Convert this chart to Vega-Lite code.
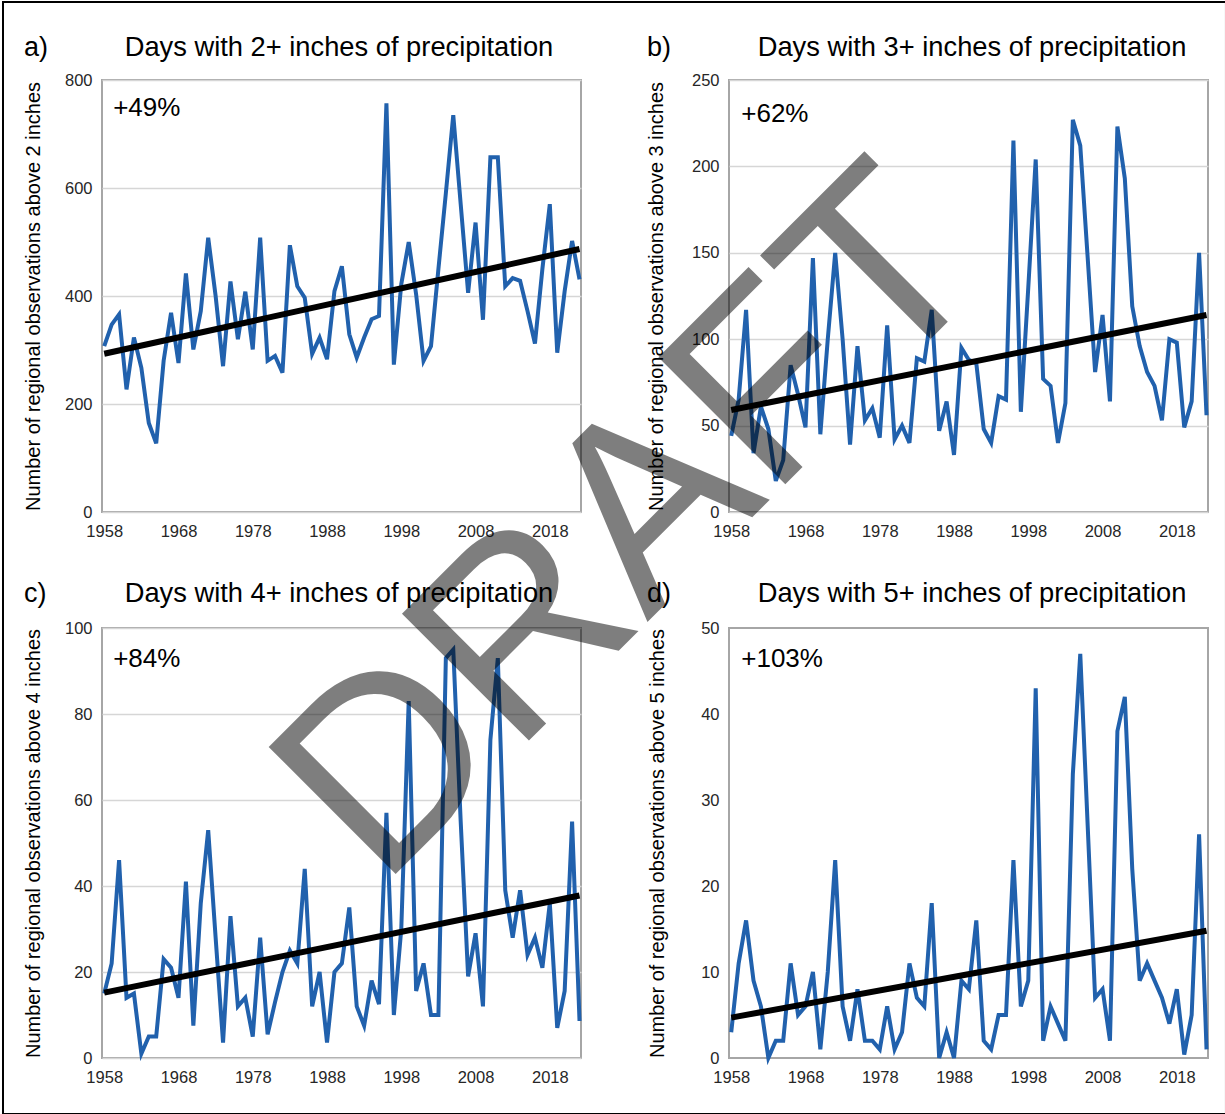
{
  "$schema": "https://vega.github.io/schema/vega-lite/v6.json",
  "padding": 0,
  "background": "white",
  "bounds": "flush",
  "columns": 2,
  "spacing": {"row": 116, "column": 148},
  "datasets": {
    "obs": [
      {"year":1958,"a":307,"b":44,"c":15,"d":3},
      {"year":1959,"a":347,"b":65,"c":22,"d":11},
      {"year":1960,"a":366,"b":117,"c":46,"d":16},
      {"year":1961,"a":227,"b":34,"c":14,"d":9},
      {"year":1962,"a":323,"b":61,"c":15,"d":6},
      {"year":1963,"a":267,"b":48,"c":1,"d":0},
      {"year":1964,"a":165,"b":18,"c":5,"d":2},
      {"year":1965,"a":127,"b":30,"c":5,"d":2},
      {"year":1966,"a":280,"b":85,"c":23,"d":11},
      {"year":1967,"a":369,"b":68,"c":21,"d":5},
      {"year":1968,"a":276,"b":49,"c":14,"d":6},
      {"year":1969,"a":442,"b":147,"c":41,"d":10},
      {"year":1970,"a":301,"b":45,"c":7.5,"d":1},
      {"year":1971,"a":372,"b":100,"c":36,"d":10},
      {"year":1972,"a":508,"b":150,"c":53,"d":23},
      {"year":1973,"a":400,"b":100,"c":28,"d":6},
      {"year":1974,"a":270,"b":39,"c":3.6,"d":2},
      {"year":1975,"a":427,"b":96,"c":33,"d":8},
      {"year":1976,"a":320,"b":53,"c":12,"d":2},
      {"year":1977,"a":408,"b":60,"c":14,"d":2},
      {"year":1978,"a":301,"b":43,"c":5,"d":1},
      {"year":1979,"a":508,"b":108,"c":28,"d":6},
      {"year":1980,"a":280,"b":42,"c":5.5,"d":1},
      {"year":1981,"a":289,"b":50,"c":13,"d":3},
      {"year":1982,"a":258,"b":40,"c":20,"d":11},
      {"year":1983,"a":494,"b":89,"c":25,"d":7},
      {"year":1984,"a":418,"b":87,"c":22,"d":6},
      {"year":1985,"a":397,"b":117,"c":44,"d":18},
      {"year":1986,"a":293,"b":47,"c":12,"d":0},
      {"year":1987,"a":323,"b":64,"c":20,"d":3},
      {"year":1988,"a":283,"b":33,"c":3.6,"d":0},
      {"year":1989,"a":409,"b":95,"c":20,"d":9},
      {"year":1990,"a":455,"b":88,"c":22,"d":8},
      {"year":1991,"a":329,"b":86,"c":35,"d":16},
      {"year":1992,"a":286,"b":48,"c":12,"d":2},
      {"year":1993,"a":323,"b":40,"c":7.5,"d":1},
      {"year":1994,"a":357,"b":67,"c":18,"d":5},
      {"year":1995,"a":363,"b":65,"c":12.5,"d":5},
      {"year":1996,"a":757,"b":215,"c":57,"d":23},
      {"year":1997,"a":273,"b":58,"c":10,"d":6},
      {"year":1998,"a":422,"b":130,"c":30,"d":9},
      {"year":1999,"a":500,"b":204,"c":83,"d":43},
      {"year":2000,"a":403,"b":77,"c":15.6,"d":2},
      {"year":2001,"a":280,"b":73,"c":22,"d":6},
      {"year":2002,"a":307,"b":40,"c":10,"d":4},
      {"year":2003,"a":450,"b":63,"c":10,"d":2},
      {"year":2004,"a":590,"b":227,"c":93,"d":33},
      {"year":2005,"a":735,"b":212,"c":95,"d":47},
      {"year":2006,"a":570,"b":147,"c":55,"d":27},
      {"year":2007,"a":406,"b":81,"c":19,"d":7},
      {"year":2008,"a":536,"b":114,"c":29,"d":8},
      {"year":2009,"a":356,"b":64,"c":12,"d":2},
      {"year":2010,"a":657,"b":223,"c":74,"d":38},
      {"year":2011,"a":657,"b":193,"c":93,"d":42},
      {"year":2012,"a":418,"b":119,"c":39,"d":22},
      {"year":2013,"a":433,"b":96,"c":28,"d":9},
      {"year":2014,"a":428,"b":81,"c":39,"d":11},
      {"year":2015,"a":372,"b":73,"c":24,"d":9},
      {"year":2016,"a":312,"b":53,"c":28,"d":7},
      {"year":2017,"a":450,"b":100,"c":21,"d":4},
      {"year":2018,"a":570,"b":98,"c":36,"d":8},
      {"year":2019,"a":295,"b":49,"c":7,"d":0.4},
      {"year":2020,"a":409,"b":64,"c":15.6,"d":5},
      {"year":2021,"a":502,"b":150,"c":55,"d":26},
      {"year":2022,"a":431,"b":56,"c":8.6,"d":1}
    ],
    "trend": [
      {"year":1958,"a":293,"b":59,"c":15.2,"d":4.7},
      {"year":2022,"a":487,"b":114,"c":37.8,"d":14.8}
    ],
    "one": [{}]
  },
  "config": {
    "view": {"stroke": "#a6a6a6", "strokeWidth": 2},
    "axis": {
      "labelFont": "Liberation Sans",
      "labelFontSize": 16.5,
      "labelColor": "#262626",
      "titleFont": "Liberation Sans",
      "titleFontSize": 20,
      "titleFontWeight": "normal",
      "titleColor": "#000000",
      "ticks": false,
      "domain": false,
      "gridColor": "#d6d6d6",
      "gridWidth": 1.3,
      "labelPadding": 10
    },
    "axisX": {"grid": false, "labelPadding": 11},
    "text": {"font": "Liberation Sans", "color": "#000000"}
  },
  "concat": [
    {
      "width": 479, "height": 432,
      "layer": [
        {
          "data": {"name": "obs"},
          "mark": {"type": "line", "color": "#2161ad", "strokeWidth": 4},
          "encoding": {
            "x": {"field": "year", "type": "quantitative", "scale": {"domain": [1957.7, 2022.2], "nice": false, "zero": false},
                  "axis": {"values": [1958,1968,1978,1988,1998,2008,2018], "format": "d", "title": null}},
            "y": {"field": "a", "type": "quantitative", "scale": {"domain": [0, 800], "nice": false},
                  "axis": {"values": [0,200,400,600,800], "title": "Number of regional observations above 2 inches", "titlePadding": 21}}
          }
        },
        {
          "data": {"name": "trend"},
          "mark": {"type": "line", "color": "#000000", "strokeWidth": 6},
          "encoding": {"x": {"field": "year", "type": "quantitative"}, "y": {"field": "a", "type": "quantitative"}}
        },
        {
          "data": {"name": "one"},
          "mark": {"type": "text", "text": "+49%", "align": "left", "baseline": "alphabetic", "fontSize": 26},
          "encoding": {"x": {"datum": 1959.2}, "y": {"datum": 733.3}}
        },
        {
          "data": {"name": "one"},
          "mark": {"type": "text", "text": "a)", "align": "left", "baseline": "alphabetic", "fontSize": 27},
          "encoding": {"x": {"datum": 1947.2}, "y": {"datum": 844.4}}
        },
        {
          "data": {"name": "one"},
          "mark": {"type": "text", "text": "Days with 2+ inches of precipitation", "align": "center", "baseline": "alphabetic", "fontSize": 27.3},
          "encoding": {"x": {"datum": 1989.61}, "y": {"datum": 844.4}}
        }
      ]
    },
    {
      "width": 479, "height": 432,
      "layer": [
        {
          "data": {"name": "obs"},
          "mark": {"type": "line", "color": "#2161ad", "strokeWidth": 4},
          "encoding": {
            "x": {"field": "year", "type": "quantitative", "scale": {"domain": [1957.7, 2022.2], "nice": false, "zero": false},
                  "axis": {"values": [1958,1968,1978,1988,1998,2008,2018], "format": "d", "title": null}},
            "y": {"field": "b", "type": "quantitative", "scale": {"domain": [0, 250], "nice": false},
                  "axis": {"values": [0,50,100,150,200,250], "title": "Number of regional observations above 3 inches", "titlePadding": 25}}
          }
        },
        {
          "data": {"name": "trend"},
          "mark": {"type": "line", "color": "#000000", "strokeWidth": 6},
          "encoding": {"x": {"field": "year", "type": "quantitative"}, "y": {"field": "b", "type": "quantitative"}}
        },
        {
          "data": {"name": "one"},
          "mark": {"type": "text", "text": "+62%", "align": "left", "baseline": "alphabetic", "fontSize": 26},
          "encoding": {"x": {"datum": 1959.35}, "y": {"datum": 225.7}}
        },
        {
          "data": {"name": "one"},
          "mark": {"type": "text", "text": "b)", "align": "left", "baseline": "alphabetic", "fontSize": 27},
          "encoding": {"x": {"datum": 1946.66}, "y": {"datum": 263.9}}
        },
        {
          "data": {"name": "one"},
          "mark": {"type": "text", "text": "Days with 3+ inches of precipitation", "align": "center", "baseline": "alphabetic", "fontSize": 27.3},
          "encoding": {"x": {"datum": 1990.42}, "y": {"datum": 263.9}}
        }
      ]
    },
    {
      "width": 479, "height": 430,
      "layer": [
        {
          "data": {"name": "obs"},
          "mark": {"type": "line", "color": "#2161ad", "strokeWidth": 4},
          "encoding": {
            "x": {"field": "year", "type": "quantitative", "scale": {"domain": [1957.7, 2022.2], "nice": false, "zero": false},
                  "axis": {"values": [1958,1968,1978,1988,1998,2008,2018], "format": "d", "title": null}},
            "y": {"field": "c", "type": "quantitative", "scale": {"domain": [0, 100], "nice": false},
                  "axis": {"values": [0,20,40,60,80,100], "title": "Number of regional observations above 4 inches", "titlePadding": 21}}
          }
        },
        {
          "data": {"name": "trend"},
          "mark": {"type": "line", "color": "#000000", "strokeWidth": 6},
          "encoding": {"x": {"field": "year", "type": "quantitative"}, "y": {"field": "c", "type": "quantitative"}}
        },
        {
          "data": {"name": "one"},
          "mark": {"type": "text", "text": "+84%", "align": "left", "baseline": "alphabetic", "fontSize": 26},
          "encoding": {"x": {"datum": 1959.2}, "y": {"datum": 90.93}}
        },
        {
          "data": {"name": "one"},
          "mark": {"type": "text", "text": "c)", "align": "left", "baseline": "alphabetic", "fontSize": 27},
          "encoding": {"x": {"datum": 1947.2}, "y": {"datum": 106.05}}
        },
        {
          "data": {"name": "one"},
          "mark": {"type": "text", "text": "Days with 4+ inches of precipitation", "align": "center", "baseline": "alphabetic", "fontSize": 27.3},
          "encoding": {"x": {"datum": 1989.61}, "y": {"datum": 106.05}}
        }
      ]
    },
    {
      "width": 479, "height": 430,
      "layer": [
        {
          "data": {"name": "one"},
          "mark": {"type": "rect", "filled": false, "stroke": "#000000", "strokeWidth": 2},
          "encoding": {"x": {"datum": 1859.94}, "x2": {"datum": 2024.62}, "y": {"datum": 122.79}, "y2": {"datum": -6.51}}
        },
        {
          "data": {"name": "obs"},
          "mark": {"type": "line", "color": "#2161ad", "strokeWidth": 4},
          "encoding": {
            "x": {"field": "year", "type": "quantitative", "scale": {"domain": [1957.7, 2022.2], "nice": false, "zero": false},
                  "axis": {"values": [1958,1968,1978,1988,1998,2008,2018], "format": "d", "title": null}},
            "y": {"field": "d", "type": "quantitative", "scale": {"domain": [0, 50], "nice": false},
                  "axis": {"values": [0,10,20,30,40,50], "title": "Number of regional observations above 5 inches", "titlePadding": 33}}
          }
        },
        {
          "data": {"name": "trend"},
          "mark": {"type": "line", "color": "#000000", "strokeWidth": 6},
          "encoding": {"x": {"field": "year", "type": "quantitative"}, "y": {"field": "d", "type": "quantitative"}}
        },
        {
          "data": {"name": "one"},
          "mark": {"type": "text", "text": "+103%", "align": "left", "baseline": "alphabetic", "fontSize": 26},
          "encoding": {"x": {"datum": 1959.35}, "y": {"datum": 45.47}}
        },
        {
          "data": {"name": "one"},
          "mark": {"type": "text", "text": "d)", "align": "left", "baseline": "alphabetic", "fontSize": 27},
          "encoding": {"x": {"datum": 1946.66}, "y": {"datum": 53.02}}
        },
        {
          "data": {"name": "one"},
          "mark": {"type": "text", "text": "Days with 5+ inches of precipitation", "align": "center", "baseline": "alphabetic", "fontSize": 27.3},
          "encoding": {"x": {"datum": 1990.42}, "y": {"datum": 53.02}}
        },
        {
          "data": {"name": "one"},
          "mark": {"type": "text", "text": "DRAFT", "align": "center", "baseline": "alphabetic", "fontSize": 261, "angle": -45, "opacity": 0.5, "font": "Liberation Sans"},
          "encoding": {"x": {"datum": 1952.19}, "y": {"datum": 55.41}}
        }
      ]
    }
  ]
}
